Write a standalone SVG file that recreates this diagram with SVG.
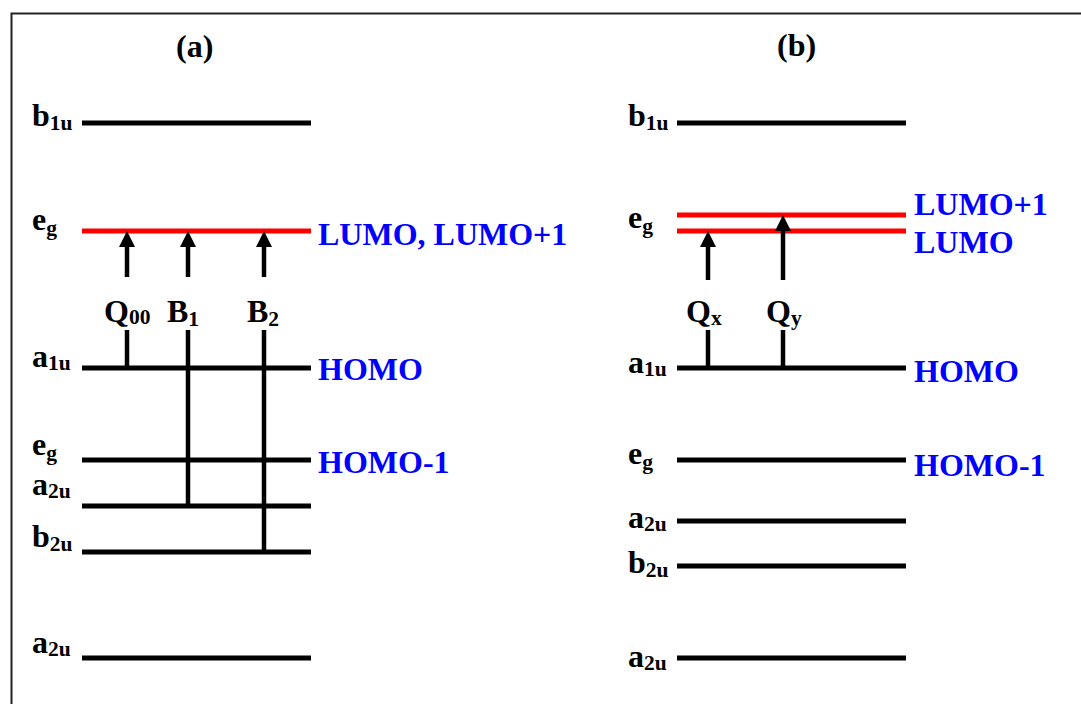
<svg xmlns="http://www.w3.org/2000/svg" width="1081" height="704" viewBox="0 0 1081 704">
  <style>
    text { font-family: "Liberation Serif", "Times New Roman", serif; font-weight: bold; font-size: 32px; }
    .sub { font-size: 21.5px; }
    .blue { fill: #0000ff; font-size: 32px; }
    .lvl { stroke: #000; stroke-width: 5; fill: none; }
    .red { stroke: #ff0000; stroke-width: 5; fill: none; }
    .conn { stroke: #000; stroke-width: 4.5; fill: none; }
  </style>
  <defs>
    <marker id="ah" markerUnits="userSpaceOnUse" markerWidth="16" markerHeight="16" viewBox="0 0 16 16" refX="7" refY="8" orient="auto">
      <path d="M0,0 L16,8 L0,16 Z" fill="#000"/>
    </marker>
  </defs>
  <rect width="1081" height="704" fill="#fff"/>
  <path d="M11.5,704 V13.5 H1081" fill="none" stroke="#222" stroke-width="2"/>

  <g id="title-a"><text x="176" y="57">(a)</text></g>
  <g id="title-b"><text x="777" y="56">(b)</text></g>

  <!-- Panel (a) levels -->
  <g id="a-b1u">
    <line class="lvl" x1="82" y1="123" x2="311" y2="123"/>
    <text x="32" y="126">b<tspan class="sub" dy="4">1u</tspan></text>
  </g>
  <g id="a-eg-lumo">
    <line class="red" x1="82" y1="231" x2="311" y2="231"/>
    <text x="32" y="230">e<tspan class="sub" dy="5">g</tspan></text>
    <text class="blue" x="318" y="245">LUMO, LUMO+1</text>
  </g>
  <g id="a-a1u">
    <line class="lvl" x1="82" y1="368" x2="311" y2="368"/>
    <text x="32" y="367">a<tspan class="sub" dy="3">1u</tspan></text>
    <text class="blue" x="318" y="380">HOMO</text>
  </g>
  <g id="a-eg">
    <line class="lvl" x1="82" y1="460" x2="311" y2="460"/>
    <text x="32" y="455">e<tspan class="sub" dy="5">g</tspan></text>
    <text class="blue" x="318" y="473">HOMO-1</text>
  </g>
  <g id="a-a2u">
    <line class="lvl" x1="82" y1="506" x2="311" y2="506"/>
    <text x="32" y="495">a<tspan class="sub" dy="3">2u</tspan></text>
  </g>
  <g id="a-b2u">
    <line class="lvl" x1="82" y1="552" x2="311" y2="552"/>
    <text x="32" y="547">b<tspan class="sub" dy="4">2u</tspan></text>
  </g>
  <g id="a-a2u-low">
    <line class="lvl" x1="82" y1="658" x2="311" y2="658"/>
    <text x="32" y="653">a<tspan class="sub" dy="3">2u</tspan></text>
  </g>

  <!-- Panel (b) levels -->
  <g id="b-b1u">
    <line class="lvl" x1="677" y1="123" x2="906" y2="123"/>
    <text x="628" y="126">b<tspan class="sub" dy="4">1u</tspan></text>
  </g>
  <g id="b-eg-lumo">
    <line class="red" x1="677" y1="215" x2="906" y2="215"/>
    <line class="red" x1="677" y1="231" x2="906" y2="231"/>
    <text x="628" y="228">e<tspan class="sub" dy="5">g</tspan></text>
    <text class="blue" x="914" y="215">LUMO+1</text>
    <text class="blue" x="914" y="253">LUMO</text>
  </g>
  <g id="b-a1u">
    <line class="lvl" x1="677" y1="368" x2="906" y2="368"/>
    <text x="628" y="373">a<tspan class="sub" dy="3">1u</tspan></text>
    <text class="blue" x="914" y="382">HOMO</text>
  </g>
  <g id="b-eg">
    <line class="lvl" x1="677" y1="460" x2="906" y2="460"/>
    <text x="628" y="464">e<tspan class="sub" dy="5">g</tspan></text>
    <text class="blue" x="914" y="476">HOMO-1</text>
  </g>
  <g id="b-a2u">
    <line class="lvl" x1="677" y1="521" x2="906" y2="521"/>
    <text x="628" y="528">a<tspan class="sub" dy="3">2u</tspan></text>
  </g>
  <g id="b-b2u">
    <line class="lvl" x1="677" y1="566" x2="906" y2="566"/>
    <text x="628" y="573">b<tspan class="sub" dy="4">2u</tspan></text>
  </g>
  <g id="b-a2u-low">
    <line class="lvl" x1="677" y1="658" x2="906" y2="658"/>
    <text x="628" y="667">a<tspan class="sub" dy="3">2u</tspan></text>
  </g>

  <!-- Transitions -->
  <g id="connectors">
    <line class="conn" x1="127" y1="277" x2="127" y2="240" marker-end="url(#ah)"/>
    <line class="conn" x1="127" y1="330" x2="127" y2="368"/>
    <line class="conn" x1="188" y1="277" x2="188" y2="240" marker-end="url(#ah)"/>
    <line class="conn" x1="188" y1="330" x2="188" y2="506"/>
    <line class="conn" x1="264" y1="277" x2="264" y2="240" marker-end="url(#ah)"/>
    <line class="conn" x1="264" y1="330" x2="264" y2="552"/>
    <line class="conn" x1="708" y1="280" x2="708" y2="240" marker-end="url(#ah)"/>
    <line class="conn" x1="708" y1="330" x2="708" y2="368"/>
    <line class="conn" x1="783" y1="280" x2="783" y2="224" marker-end="url(#ah)"/>
    <line class="conn" x1="783" y1="330" x2="783" y2="368"/>
  </g>
  <g id="transition-labels">
    <text x="104" y="322">Q<tspan class="sub" dy="2">00</tspan></text>
    <text x="167" y="322">B<tspan class="sub" dy="4">1</tspan></text>
    <text x="247" y="322">B<tspan class="sub" dy="4">2</tspan></text>
    <text x="686" y="322">Q<tspan class="sub" dy="3">x</tspan></text>
    <text x="766" y="322">Q<tspan class="sub" dy="3">y</tspan></text>
  </g>
</svg>
